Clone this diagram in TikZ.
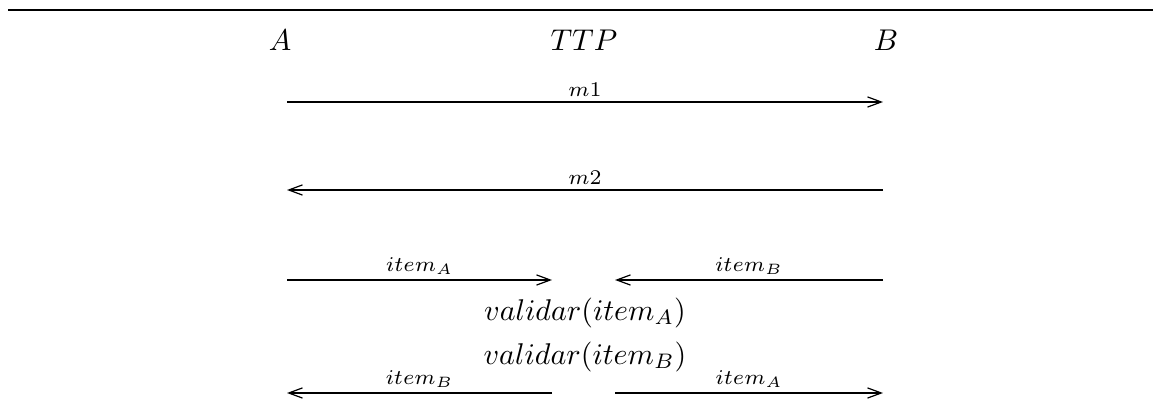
\documentclass[tikz,border=0pt]{standalone}
\usetikzlibrary{arrows.meta}
\begin{document}
\begin{tikzpicture}[x=0.3333pt,y=-0.3333pt,
  party/.style={inner sep=0pt,anchor=base},
  msg/.style={-{Straight Barb[length=4.6pt,width=3.4pt]}},
  msglabel/.style={above,inner sep=1.5pt,font=\scriptsize},
  action/.style={inner sep=0pt}]
\useasboundingbox (0,0) rectangle (1153,415);
\coordinate (rl) at (8,10);
\coordinate (rr) at (1153,10);
\draw[line width=0.5pt] (rl) -- (rr);
\node[party] (A) at (280,51) {$A$};
\node[party] (T) at (584,51) {$TTP$};
\node[party] (B) at (886,51) {$B$};
% message end points
\coordinate (a1) at (287,102); \coordinate (b1) at (883,102);
\coordinate (a2) at (287,190); \coordinate (b2) at (883,190);
\coordinate (a3) at (287,280); \coordinate (t3l) at (552,280);
\coordinate (t3r) at (615,280); \coordinate (b3) at (883,280);
\coordinate (a4) at (287,393); \coordinate (t4l) at (552,393);
\coordinate (t4r) at (615,393); \coordinate (b4) at (883,393);
\draw[msg] (a1) -- node[msglabel] {$m1$} (b1);
\draw[msg] (b2) -- node[msglabel] {$m2$} (a2);
\draw[msg] (a3) -- node[msglabel] {$item_A$} (t3l);
\draw[msg] (b3) -- node[msglabel] {$item_B$} (t3r);
\node[action] (vA) at (585,313) {$validar(item_A)$};
\node[action] (vB) at (585,357) {$validar(item_B)$};
\draw[msg] (t4l) -- node[msglabel] {$item_B$} (a4);
\draw[msg] (t4r) -- node[msglabel] {$item_A$} (b4);
\end{tikzpicture}
\end{document}
